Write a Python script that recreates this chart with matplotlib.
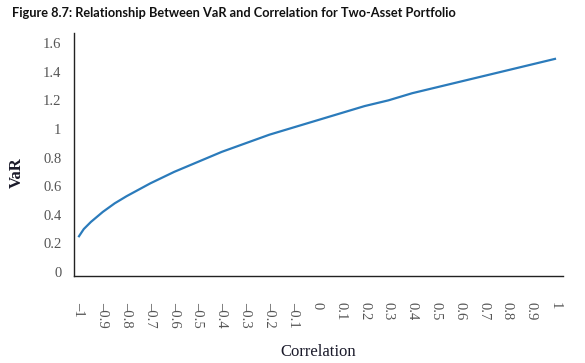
import matplotlib.pyplot as plt

correlation = [-1.0, -0.98, -0.95, -0.9, -0.85, -0.8, -0.7, -0.6, -0.5, -0.4, -0.3,
               -0.2, -0.1, 0.0, 0.1, 0.2, 0.3, 0.4, 0.5, 0.6, 0.7, 0.8, 0.9, 1.0]
var = [0.25, 0.30, 0.35, 0.42, 0.48, 0.53, 0.62, 0.70, 0.77, 0.84, 0.90,
       0.96, 1.01, 1.06, 1.11, 1.16, 1.20, 1.25, 1.29, 1.33, 1.37, 1.41, 1.45, 1.49]

x_ticks = [i / 10 for i in range(-10, 11)]
y_ticks = [0, 0.2, 0.4, 0.6, 0.8, 1, 1.2, 1.4, 1.6]


def fmt(v):
    s = ("%g" % v)
    return s.replace("-", "\u2013")


fig = plt.figure(figsize=(5.85, 3.63), dpi=100)
ax = fig.add_axes([0.1265, 0.2397, 0.836, 0.6694])

ax.plot(correlation, var, color="#2b7bbb", linewidth=1.6)

ax.set_xlim(-1.021, 1.034)
ax.set_ylim(-0.028, 1.671)

serif = ["Liberation Serif", "DejaVu Serif"]
ax.set_xticks(x_ticks)
ax.set_xticklabels([fmt(v) for v in x_ticks], rotation=-90, family=serif,
                   fontsize=10.5, color="#555555", va="top", ha="center")
ax.set_yticks(y_ticks)
ax.set_yticklabels([fmt(v) for v in y_ticks], family=serif,
                   fontsize=10.5, color="#555555")
ax.tick_params(axis="x", length=0, pad=19)
ax.tick_params(axis="y", length=0, pad=9)

for s in ["top", "right"]:
    ax.spines[s].set_visible(False)
for s in ["left", "bottom"]:
    ax.spines[s].set_color("#222222")
    ax.spines[s].set_linewidth(1.0)

ax.set_xlabel("Correlation", family=serif, fontsize=12, color="#1a1a2a", va="center")
ax.xaxis.set_label_coords(0.499, -0.313)
ax.set_ylabel("VaR", family=serif, fontsize=12, color="#1a1a2a", fontweight="bold", va="center")
ax.yaxis.set_label_coords(-0.117, 0.424)

fig.text(0.02, 0.964, "Figure 8.7: Relationship Between VaR and Correlation for Two-Asset Portfolio",
         family=["Lato", "DejaVu Sans"], fontweight="bold", fontsize=9.2, color="#111111",
         va="center", ha="left")

fig.savefig("out.png", dpi=100)
